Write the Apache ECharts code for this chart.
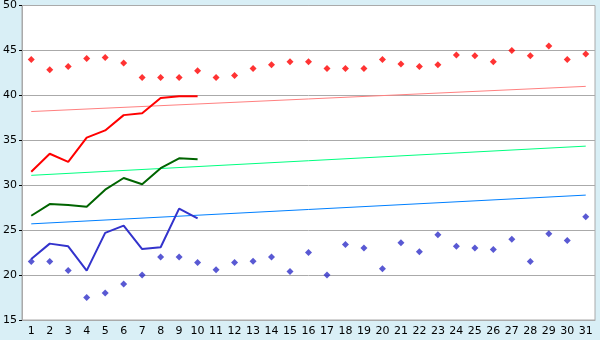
<!DOCTYPE html>
<html><head><meta charset="utf-8">
<script src="https://cdn.jsdelivr.net/npm/echarts@6/dist/echarts.min.js"></script>
<style>html,body{margin:0;padding:0;background:#d9eff6;}#c{width:600px;height:340px;}</style>
</head><body><div id="c"></div>
<script>
const categories = Array.from({length:31},(_,i)=>String(i+1));
const yTicks = [15,20,25,30,35,40,45,50];
const redLine = [31.5,33.5,32.6,35.3,36.1,37.8,38.0,39.7,39.9,39.9];
const greenLine = [26.6,27.9,27.8,27.6,29.5,30.8,30.1,31.9,33.0,32.9];
const blueLine = [21.8,23.5,23.2,20.5,24.7,25.5,22.9,23.1,27.4,26.3];
const redPoints = [44.0,42.85,43.2,44.1,44.2,43.6,42.0,42.0,42.0,42.75,42.0,42.2,43.0,43.4,43.75,43.75,43.0,43.0,43.0,44.0,43.5,43.2,43.4,44.5,44.4,43.75,45.0,44.4,45.5,44.0,44.6];
const bluePoints = [21.5,21.5,20.5,17.5,18.0,19.0,20.0,22.0,22.0,21.4,20.6,21.4,21.55,22.0,20.4,22.5,20.0,23.4,23.0,20.7,23.6,22.6,24.5,23.2,23.0,22.85,24.0,21.5,24.6,23.85,26.5];
const redTrend = [['1',38.2],['31',41.0]];
const greenTrend = [['1',31.1],['31',34.35]];
const blueTrend = [['1',25.7],['31',28.9]];

const chart = echarts.init(document.getElementById('c'), null, {renderer:'canvas'});
const font = 'DejaVu Sans';
chart.setOption({
  backgroundColor:'#d9eff6',
  animation:false,
  grid:{left:21,right:5,top:5,bottom:20,show:true,backgroundColor:'#ffffff',borderColor:'#aaaaaa',borderWidth:1},
  xAxis:{type:'category',data:categories,boundaryGap:true,
    axisLine:{lineStyle:{color:'#aaaaaa',width:1}},
    axisTick:{alignWithLabel:true,length:4,lineStyle:{color:'#000000'}},
    axisLabel:{color:'#000',fontFamily:font,fontSize:11,margin:6,interval:0},
    splitLine:{show:false}},
  yAxis:{type:'value',min:yTicks[0],max:yTicks[yTicks.length-1],interval:5,
    axisLine:{show:true,lineStyle:{color:'#aaaaaa',width:1}},
    axisTick:{show:true,length:3,lineStyle:{color:'#000000'}},
    axisLabel:{color:'#000',fontFamily:font,fontSize:11,margin:5},
    splitLine:{show:true,lineStyle:{color:'#aaaaaa',width:1}}},
  series:[
    {type:'line',data:redTrend,symbol:'none',lineStyle:{color:'#ff8080',width:1},z:1},
    {type:'line',data:greenTrend,symbol:'none',lineStyle:{color:'#00ff80',width:1},z:1},
    {type:'line',data:blueTrend,symbol:'none',lineStyle:{color:'#0080ff',width:1},z:1},
    {type:'line',data:redLine,symbol:'none',lineStyle:{color:'#ff0000',width:2},z:2},
    {type:'line',data:greenLine,symbol:'none',lineStyle:{color:'#006400',width:2},z:2},
    {type:'line',data:blueLine,symbol:'none',lineStyle:{color:'#3333cc',width:2},z:2},
    {type:'scatter',data:redPoints,symbol:'diamond',symbolSize:7,itemStyle:{color:'#ff0000'},z:3},
    {type:'scatter',data:bluePoints,symbol:'diamond',symbolSize:7,itemStyle:{color:'#3030c8'},z:3}
  ]
});
</script></body></html>
